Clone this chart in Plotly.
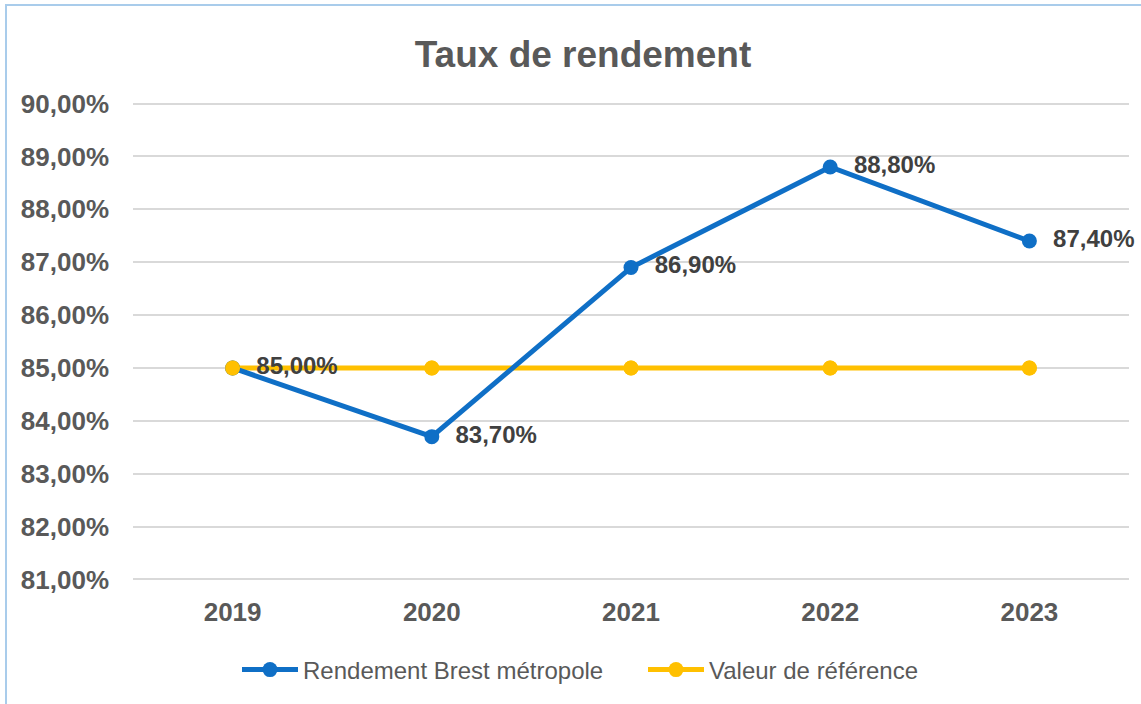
import plotly.graph_objects as go

years = ["2019", "2020", "2021", "2022", "2023"]
rendement = [85.00, 83.70, 86.90, 88.80, 87.40]
reference = [85.00, 85.00, 85.00, 85.00, 85.00]
y_ticks = [81, 82, 83, 84, 85, 86, 87, 88, 89, 90]
y_ticktext = [f"{v:.2f}%".replace(".", ",") for v in y_ticks]

BLUE = "#0F6FC6"
GOLD = "#FFC000"
GRAY = "#595959"
FONT = "Liberation Sans, Arial, sans-serif"

W, H = 1141, 704
L, R, T, B = 133, 12, 102, 123

fig = go.Figure()
fig.add_trace(go.Scatter(
    x=years, y=reference, name="Valeur de référence",
    mode="lines+markers",
    line=dict(color=GOLD, width=5),
    marker=dict(color=GOLD, size=15),
    cliponaxis=False,
))
fig.add_trace(go.Scatter(
    x=years, y=rendement, name="Rendement Brest métropole",
    mode="lines+markers+text",
    line=dict(color=BLUE, width=5),
    marker=dict(color=BLUE, size=15),
    texttemplate="  %{y:.2f}%", textposition="middle right",
    textfont=dict(family=FONT, size=24, color="#404040", weight="bold"),
    cliponaxis=False,
))
# gold markers drawn on top (as in the reference)
fig.add_trace(go.Scatter(
    x=years, y=reference, name="Valeur de référence",
    mode="markers", showlegend=False,
    marker=dict(color=GOLD, size=15),
    cliponaxis=False, hoverinfo="skip",
))

pw = W - L - R
ph = H - T - B
x0 = (6 - L) / pw
y1 = (H - B - 5) / ph

fig.update_layout(
    width=W, height=H,
    margin=dict(l=L, r=R, t=T, b=B),
    paper_bgcolor="white", plot_bgcolor="white",
    separators=", ",
    title=dict(text="Taux de rendement", x=(583 - L) / pw, xref="paper", xanchor="center",
               y=1 - 54 / H, yanchor="middle",
               font=dict(family=FONT, size=37, color=GRAY, weight="bold")),
    font=dict(family=FONT, color=GRAY),
    showlegend=True,
    legend=dict(orientation="h", x=(643 - L) / pw, xanchor="center", y=-(670 - (H - B)) / ph, yanchor="middle",
                traceorder="reversed",
                font=dict(family=FONT, size=24, color=GRAY), itemwidth=56,
                entrywidthmode="pixels", entrywidth=335),
    xaxis=dict(type="category", range=[-0.5, 4.5], showgrid=False, showline=False, zeroline=False,
               tickfont=dict(family=FONT, size=26, color=GRAY, weight="bold"),
               ticks="", ticklabelstandoff=13),
    yaxis=dict(range=[80.97, 90.03], tickvals=y_ticks, ticktext=y_ticktext,
               showgrid=True, gridcolor="#D9D9D9", gridwidth=1.5, zeroline=False, showline=False,
               tickfont=dict(family=FONT, size=26, color=GRAY, weight="bold"),
               ticks="", ticklabelstandoff=23),
    shapes=[dict(type="rect", xref="paper", yref="paper", x0=x0, x1=1.2, y0=-0.5, y1=y1,
                 line=dict(color="#A9CCEB", width=2), fillcolor="rgba(0,0,0,0)", layer="below")],
)
fig.write_html("out.html", config={"displayModeBar": False},
               post_script="document.body.style.margin='0px';document.body.style.overflow='hidden';")
